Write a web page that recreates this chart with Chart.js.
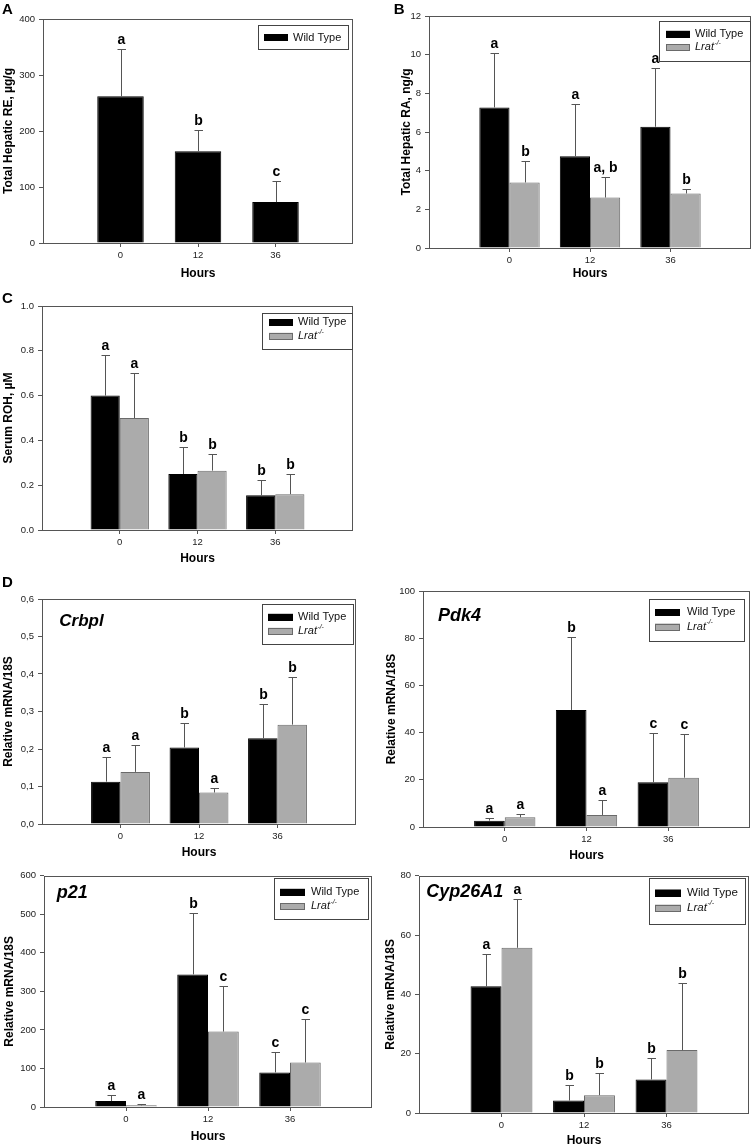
<!DOCTYPE html>
<html><head><meta charset="utf-8">
<script src="https://cdn.jsdelivr.net/npm/chart.js@4.4.1/dist/chart.umd.min.js"></script>
<style>
html,body{margin:0;padding:0;background:#fff;}
body{width:754px;height:1146px;position:relative;overflow:hidden;}
canvas{position:absolute;}
</style></head>
<body>
<script>
// ---------- shared categories / labels ----------
const hours = ['0', '12', '36'];
const genotypes = ['Wild Type', 'Lrat'];
const koSup = '-/-';
const xTitle = 'Hours';

// ---------- Panel A : Total hepatic RE ----------
const reWT = [262, 164, 73];
const reWTsd = [84, 38, 38];
const reWTsig = ['a', 'b', 'c'];
const reTicks = [0, 100, 200, 300, 400];
const reTickLabels = ['0', '100', '200', '300', '400'];

// ---------- Panel B : Total hepatic RA ----------
const raWT = [7.27, 4.75, 6.27];
const raWTsd = [2.8, 2.68, 3.06];
const raWTsig = ['a', 'a', 'a'];
const raKO = [3.39, 2.61, 2.82];
const raKOsd = [1.1, 1.07, 0.24];
const raKOsig = ['b', 'a, b', 'b'];
const raTicks = [0, 2, 4, 6, 8, 10, 12];
const raTickLabels = ['0', '2', '4', '6', '8', '10', '12'];

// ---------- Panel C : Serum ROH ----------
const rohWT = [0.60, 0.25, 0.155];
const rohWTsd = [0.18, 0.12, 0.07];
const rohWTsig = ['a', 'b', 'b'];
const rohKO = [0.50, 0.265, 0.16];
const rohKOsd = [0.20, 0.075, 0.09];
const rohKOsig = ['a', 'b', 'b'];
const rohTicks = [0, 0.2, 0.4, 0.6, 0.8, 1.0];
const rohTickLabels = ['0.0', '0.2', '0.4', '0.6', '0.8', '1.0'];

// ---------- Panel D : Crbpl ----------
const crbWT = [0.113, 0.204, 0.229];
const crbWTsd = [0.065, 0.065, 0.091];
const crbWTsig = ['a', 'b', 'b'];
const crbKO = [0.139, 0.084, 0.265];
const crbKOsd = [0.071, 0.011, 0.126];
const crbKOsig = ['a', 'a', 'b'];
const crbTicks = [0, 0.1, 0.2, 0.3, 0.4, 0.5, 0.6];
const crbTickLabels = ['0,0', '0,1', '0,2', '0,3', '0,4', '0,5', '0,6'];

// ---------- Panel D : Pdk4 ----------
const pdkWT = [2.7, 49.6, 19.0];
const pdkWTsd = [1.1, 30.8, 20.8];
const pdkWTsig = ['a', 'b', 'c'];
const pdkKO = [4.1, 5.1, 20.9];
const pdkKOsd = [1.5, 6.2, 18.6];
const pdkKOsig = ['a', 'a', 'c'];
const pdkTicks = [0, 20, 40, 60, 80, 100];
const pdkTickLabels = ['0', '20', '40', '60', '80', '100'];

// ---------- Panel D : p21 ----------
const p21WT = [15.4, 344, 89.7];
const p21WTsd = [16.2, 159, 53];
const p21WTsig = ['a', 'b', 'c'];
const p21KO = [4.3, 195.7, 115.4];
const p21KOsd = [2.5, 118, 112.6];
const p21KOsig = ['a', 'c', 'c'];
const p21Ticks = [0, 100, 200, 300, 400, 500, 600];
const p21TickLabels = ['0', '100', '200', '300', '400', '500', '600'];

// ---------- Panel D : Cyp26A1 ----------
const cypWT = [42.7, 4.2, 11.3];
const cypWTsd = [10.9, 5.3, 7.1];
const cypWTsig = ['a', 'b', 'b'];
const cypKO = [55.7, 6.0, 21.2];
const cypKOsd = [16.3, 7.5, 22.6];
const cypKOsig = ['a', 'b', 'b'];
const cypTicks = [0, 20, 40, 60, 80];
const cypTickLabels = ['0', '20', '40', '60', '80'];

// ---------- styling ----------
const FONT = '"Liberation Sans", Arial, Helvetica, sans-serif';
const FILL = ['#000000', '#ababab'];
const EDGE = ['#000000', '#6a6a6a'];
const AXIS = '#555555';
const TICKC = '#222222';
const ERRC = '#555555';
Chart.defaults.font.family = FONT;

// ---------- panel layout ----------
const panels = [
  { box: [0, 0, 372, 284], plot: [43, 19, 353, 243], hoursY: 273.5, yTitleX: 8.3,
    yTitle: 'Total Hepatic RE, µg/g', ticks: reTicks, tickLabels: reTickLabels,
    series: [{ v: reWT, sd: reWTsd, sig: reWTsig }],
    legend: { box: [258, 25, 348, 49], sw: [264, 288], rows: [37.5], tx: 293, size: 11 },
    letter: { t: 'A', x: 2, y: 14 } },
  { box: [378, 0, 754, 284], plot: [429, 16, 753, 248], hoursY: 273.5, yTitleX: 407,
    yTitle: 'Total Hepatic RA, ng/g', ticks: raTicks, tickLabels: raTickLabels,
    series: [{ v: raWT, sd: raWTsd, sig: raWTsig }, { v: raKO, sd: raKOsd, sig: raKOsig }],
    legend: { box: [659, 21, 750, 61], sw: [666, 690], rows: [34, 47.2], tx: 695, size: 11 },
    letter: { t: 'B', x: 393.7, y: 14 } },
  { box: [0, 286, 372, 566], plot: [42, 306, 353, 530], hoursY: 558.3, yTitleX: 8.3,
    yTitle: 'Serum ROH, µM', ticks: rohTicks, tickLabels: rohTickLabels,
    series: [{ v: rohWT, sd: rohWTsd, sig: rohWTsig }, { v: rohKO, sd: rohKOsd, sig: rohKOsig }],
    legend: { box: [262, 313, 352, 349], sw: [269, 293], rows: [322.3, 336], tx: 298, size: 11 },
    letter: { t: 'C', x: 2, y: 303.3 } },
  { box: [0, 570, 376, 864], plot: [42, 599, 356, 824], hoursY: 853, yTitleX: 8.3,
    yTitle: 'Relative mRNA/18S', ticks: crbTicks, tickLabels: crbTickLabels,
    series: [{ v: crbWT, sd: crbWTsd, sig: crbWTsig }, { v: crbKO, sd: crbKOsd, sig: crbKOsig }],
    legend: { box: [262, 604, 353, 644], sw: [268, 293], rows: [617, 631], tx: 298, size: 11 },
    gene: { t: 'Crbpl', x: 59.3, y: 621.7, size: 17 },
    letter: { t: 'D', x: 2, y: 586.7 } },
  { box: [378, 580, 754, 866], plot: [423, 591, 750, 827], hoursY: 856, yTitleX: 392,
    yTitle: 'Relative mRNA/18S', ticks: pdkTicks, tickLabels: pdkTickLabels,
    series: [{ v: pdkWT, sd: pdkWTsd, sig: pdkWTsig }, { v: pdkKO, sd: pdkKOsd, sig: pdkKOsig }],
    legend: { box: [649, 599, 744, 641], sw: [655, 680], rows: [612.3, 626.7], tx: 687, size: 11 },
    gene: { t: 'Pdk4', x: 438, y: 616, size: 18 } },
  { box: [0, 866, 376, 1146], plot: [44, 873, 372, 1107], hoursY: 1137, yTitleX: 10,
    yTitle: 'Relative mRNA/18S', ticks: p21Ticks, tickLabels: p21TickLabels,
    series: [{ v: p21WT, sd: p21WTsd, sig: p21WTsig }, { v: p21KO, sd: p21KOsd, sig: p21KOsig }],
    legend: { box: [274, 878, 368, 919], sw: [280, 305], rows: [892, 906.3], tx: 311, size: 11 },
    gene: { t: 'p21', x: 56.7, y: 893, size: 18 } },
  { box: [378, 866, 754, 1146], plot: [419, 873, 749, 1113], hoursY: 1140.7, yTitleX: 390.3,
    yTitle: 'Relative mRNA/18S', ticks: cypTicks, tickLabels: cypTickLabels,
    series: [{ v: cypWT, sd: cypWTsd, sig: cypWTsig }, { v: cypKO, sd: cypKOsd, sig: cypKOsig }],
    legend: { box: [649, 878, 745, 924], sw: [655, 681], rows: [892.7, 907.8], tx: 687, size: 11.6 },
    gene: { t: 'Cyp26A1', x: 426.3, y: 892.3, size: 18 } }
];

// ---------- decoration plugin: frame, error bars, letters, legend, titles ----------
const decor = {
  id: 'decor',
  afterDatasetsDraw(chart, args, opts) {
    const p = opts.p;
    const ctx = chart.ctx;
    const ca = chart.chartArea;
    const ys = chart.scales.y;
    const ox = p.box[0], oy = p.box[1];
    ctx.save();
    // error bars + significance letters
    p.series.forEach((s, di) => {
      const meta = chart.getDatasetMeta(di);
      s.v.forEach((v, j) => {
        const el = meta.data[j + 1];
        const x = Math.round(el.x) + 0.5;
        const yv = ys.getPixelForValue(v);
        const yt = Math.round(ys.getPixelForValue(v + s.sd[j])) + 0.5;
        ctx.strokeStyle = ERRC;
        ctx.lineWidth = 1;
        ctx.beginPath();
        ctx.moveTo(x, yv);
        ctx.lineTo(x, yt);
        ctx.moveTo(x - 4, yt);
        ctx.lineTo(x + 4.5, yt);
        ctx.stroke();
        ctx.fillStyle = '#000';
        ctx.font = 'bold 14px ' + FONT;
        ctx.textAlign = 'center';
        ctx.textBaseline = 'alphabetic';
        ctx.fillText(s.sig[j], x, yt - 6);
      });
    });
    // plot frame
    ctx.strokeStyle = AXIS;
    ctx.lineWidth = 1;
    ctx.strokeRect(Math.round(ca.left) + 0.5, Math.round(ca.top) + 0.5,
                   Math.round(ca.right - ca.left) - 1, Math.round(ca.bottom - ca.top));
    // legend
    const L = p.legend;
    const bx = L.box[0] - ox + 0.5, by = L.box[1] - oy + 0.5;
    ctx.fillStyle = '#fff';
    ctx.fillRect(bx, by, L.box[2] - L.box[0], L.box[3] - L.box[1]);
    ctx.strokeStyle = '#444';
    ctx.strokeRect(bx, by, L.box[2] - L.box[0], L.box[3] - L.box[1]);
    p.series.forEach((s, i) => {
      const ry = L.rows[i] - oy;
      const sx = L.sw[0] - ox, sw = L.sw[1] - L.sw[0];
      ctx.fillStyle = FILL[i];
      ctx.fillRect(sx, ry - 3.2, sw, 6.5);
      ctx.strokeStyle = EDGE[i];
      ctx.strokeRect(sx + 0.5, Math.round(ry - 3.2) + 0.5, sw - 1, 6);
      ctx.fillStyle = '#111';
      ctx.textAlign = 'left';
      ctx.textBaseline = 'middle';
      const tx = L.tx - ox;
      if (i === 0) {
        ctx.font = L.size + 'px ' + FONT;
        ctx.fillText(genotypes[0], tx, ry);
      } else {
        ctx.font = 'italic ' + L.size + 'px ' + FONT;
        ctx.fillText(genotypes[1], tx, ry);
        const w = ctx.measureText(genotypes[1]).width;
        ctx.font = 'italic ' + (L.size * 0.62) + 'px ' + FONT;
        ctx.fillText(koSup, tx + w + 0.5, ry - L.size * 0.38);
      }
    });
    // gene name
    if (p.gene) {
      ctx.fillStyle = '#000';
      ctx.font = 'italic bold ' + p.gene.size + 'px ' + FONT;
      ctx.textAlign = 'left';
      ctx.textBaseline = 'middle';
      ctx.fillText(p.gene.t, p.gene.x - ox, p.gene.y - oy);
    }
    // panel letter
    if (p.letter) {
      ctx.fillStyle = '#000';
      ctx.font = 'bold 15px ' + FONT;
      ctx.textAlign = 'left';
      ctx.textBaseline = 'alphabetic';
      ctx.fillText(p.letter.t, p.letter.x - ox, p.letter.y - oy);
    }
    ctx.restore();
  }
};

function build(p) {
  const cv = document.createElement('canvas');
  const W = p.box[2] - p.box[0], H = p.box[3] - p.box[1];
  cv.width = W; cv.height = H;
  cv.style.left = p.box[0] + 'px';
  cv.style.top = p.box[1] + 'px';
  cv.style.width = W + 'px';
  cv.style.height = H + 'px';
  document.body.appendChild(cv);
  const [x0, y0, x1, y1] = p.box;
  const [l, t, r, b] = p.plot;
  const cats = [''].concat(hours, ['']);
  const n = p.series.length;
  const datasets = p.series.map((s, i) => ({
    label: genotypes[i],
    data: [null].concat(s.v, [null]),
    backgroundColor: FILL[i],
    borderColor: EDGE[i],
    borderWidth: 1,
    categoryPercentage: n === 1 ? 0.6 : 0.75,
    barPercentage: 1
  }));
  new Chart(cv, {
    type: 'bar',
    data: { labels: cats, datasets },
    options: {
      responsive: false,
      animation: false,
      devicePixelRatio: 1,
      layout: { padding: { left: 0, top: t - y0, right: x1 - r, bottom: 0 } },
      plugins: { legend: { display: false }, tooltip: { enabled: false }, decor: { p } },
      scales: {
        x: {
          offset: false,
          grid: { display: true, offset: false, drawOnChartArea: false, drawTicks: true, tickLength: 4,
                  color: c => (c.index === 0 || c.index === cats.length - 1) ? 'rgba(0,0,0,0)' : AXIS },
          border: { display: false },
          ticks: { color: TICKC, font: { size: 9.5 }, padding: 3, maxRotation: 0, autoSkip: false },
          title: { display: true, text: xTitle, color: '#000', font: { size: 12, weight: 'bold' },
                   padding: { top: 0, bottom: (y1 - p.hoursY) - 7.2 } },
          afterFit: s => { s.height = y1 - b; }
        },
        y: {
          min: p.ticks[0],
          max: p.ticks[p.ticks.length - 1],
          afterBuildTicks: s => { s.ticks = p.ticks.map(v => ({ value: v })); },
          grid: { display: true, drawOnChartArea: false, drawTicks: true, tickLength: 4, color: AXIS },
          border: { display: false },
          ticks: { color: TICKC, font: { size: 9.5 }, padding: 4, autoSkip: false,
                   callback: (v, i) => p.tickLabels[i] },
          title: { display: true, text: p.yTitle, color: '#000', font: { size: 12, weight: 'bold' },
                   padding: { top: (p.yTitleX - x0) - 7.2, bottom: 0 } },
          afterFit: s => { s.width = l - x0; }
        }
      }
    },
    plugins: [decor]
  });
}

panels.forEach(build);
</script>
</body></html>
